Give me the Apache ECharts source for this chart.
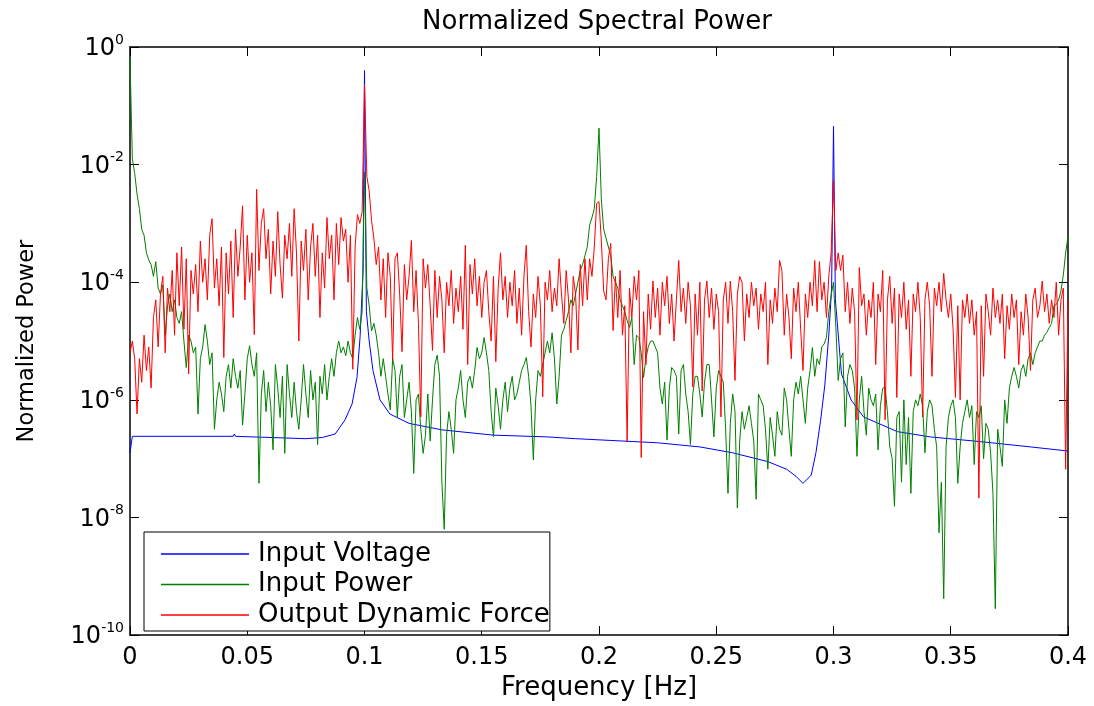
<!DOCTYPE html>
<html>
<head>
<meta charset="utf-8">
<title>Normalized Spectral Power</title>
<script src="https://cdn.jsdelivr.net/npm/echarts@6/dist/echarts.min.js"></script>
<style>
    html, body { margin: 0; padding: 0; background: #fff; }
    #id-div-chart { width: 1094px; height: 706px; }
</style>
</head>
<body>
<div id="id-div-chart"></div>
<script>
var log = console.log.bind(console)

var e = (selector) => document.querySelector(selector)

// 纵轴数据都存成 log10 指数, 纵轴是 10^x
var xTicks = [0, 0.05, 0.1, 0.15, 0.2, 0.25, 0.3, 0.35, 0.4]
var yTicks = [-10, -8, -6, -4, -2, 0]

// Input Power / Output Dynamic Force 的频率间隔
var freqStep = 0.001

var voltageFreq = [
    0, 0.001, 0.044, 0.0445, 0.045, 0.075, 0.082, 0.0875, 0.0917, 0.0947,
    0.0968, 0.0981, 0.0994, 0.1,
    0.1008, 0.102, 0.1036, 0.1066, 0.1108, 0.119, 0.133, 0.155, 0.178, 0.19,
    0.205, 0.225, 0.243, 0.257, 0.272, 0.28, 0.284, 0.287, 0.2905, 0.2925,
    0.2945, 0.2963, 0.298, 0.2992, 0.3,
    0.3008, 0.3034, 0.3075, 0.3128, 0.3272, 0.3413, 0.3626, 0.384, 0.4,
]
var voltageLog = [
    -6.9, -6.62, -6.62, -6.58, -6.62, -6.66, -6.64, -6.58, -6.34, -6.07,
    -5.62, -4.94, -3.8, -0.40,
    -4.5, -5.0, -5.5, -6.0, -6.24, -6.4, -6.51, -6.6, -6.63, -6.66,
    -6.69, -6.73, -6.80, -6.90, -7.05, -7.18, -7.3, -7.42, -7.28, -6.9,
    -6.35, -5.75, -4.9, -4.1, -1.35,
    -4.3, -5.56, -6.0, -6.29, -6.54, -6.63, -6.71, -6.8, -6.87,
]

var powerLog = [
    -0.2, -1.9, -2.15, -2.5, -2.75, -3.1, -3.2, -3.5, -3.62, -3.7,
    -3.9, -3.65, -4.1, -4.2, -4.05, -4.9, -4.4, -4.2, -4.5, -4.3,
    -4.6, -4.7, -4.5, -5.0, -5.45, -4.9, -5.0, -5.2, -5.1, -6.24,
    -5.3, -5.1, -4.72, -5.0, -5.4, -5.2, -6.5, -6.0, -5.7, -5.9,
    -6.2, -5.6, -5.4, -5.8, -5.3, -5.6, -5.8, -5.5, -6.43, -5.9,
    -5.3, -5.08, -5.4, -5.6, -5.2, -7.42, -5.9, -5.5, -6.2, -5.7,
    -6.1, -6.85, -5.4, -5.8, -6.3, -5.6, -6.91, -5.4, -5.9, -6.3,
    -5.7, -6.2, -6.5, -6.0, -5.4, -5.9, -6.3, -5.5, -6.0, -5.7,
    -6.76, -5.6, -5.9, -5.4, -6.0, -5.6, -5.3, -5.6, -5.2, -5.0,
    -5.2, -5.1, -5.25, -5.0, -5.2, -5.3, -4.9, -4.6, -4.8, -4.5,
    -2.13, -4.1, -4.4, -4.83, -4.7, -4.9, -5.2, -5.6, -5.3, -5.6,
    -5.9, -6.17, -5.3, -5.5, -6.29, -5.6, -5.4, -6.3, -6.0, -5.7,
    -6.2, -7.25, -6.0, -5.9, -6.5, -6.91, -6.6, -5.9, -6.7, -6.0,
    -5.4, -5.24, -5.6, -7.4, -8.2, -6.6, -6.2, -6.5, -6.91, -6.0,
    -5.8, -5.5, -6.0, -6.3, -5.7, -5.6, -5.8, -5.5, -5.11, -5.3,
    -5.2, -4.94, -5.2, -5.5, -6.2, -6.63, -5.8, -6.1, -6.5, -6.0,
    -5.7, -6.2, -5.8, -5.6, -6.0, -5.9, -5.7, -5.5, -5.4, -5.28,
    -5.6, -6.1, -7.02, -6.0, -5.5, -5.6, -5.4, -5.2, -5.0, -5.2,
    -4.86, -5.3, -6.07, -5.6, -4.9, -4.8, -4.65, -4.5, -4.3, -4.4,
    -4.2, -4.0, -3.8, -3.7, -3.55, -3.4, -3.03, -2.9, -2.75, -2.2,
    -1.38, -2.6, -3.1, -3.25, -3.4, -3.55, -3.9, -4.0, -4.1, -4.3,
    -4.4, -4.5, -4.65, -4.77, -4.6, -5.4, -4.9, -4.94, -5.2, -5.62,
    -5.3, -5.1, -5.0, -5.0, -5.1, -5.2, -5.8, -6.07, -5.7, -6.68,
    -5.8, -5.45, -5.5, -5.6, -6.58, -5.5, -5.4, -5.9, -6.2, -6.76,
    -5.9, -5.6, -5.6, -5.9, -6.29, -5.7, -5.4, -5.4, -6.0, -6.63,
    -5.8, -5.5, -5.6, -5.7, -6.5, -7.59, -6.4, -5.9, -6.2, -7.84,
    -6.7, -6.2, -6.5, -6.3, -6.1, -6.4, -6.7, -7.69, -5.9, -6.0,
    -6.1, -6.5, -7.18, -6.3, -6.6, -6.96, -6.2, -6.5, -6.6, -5.8,
    -6.0, -6.5, -6.96, -6.0, -5.7, -5.9, -5.6, -6.0, -6.4, -5.8,
    -5.5, -5.11, -5.6, -5.3, -5.4, -5.1, -5.05, -4.94, -4.5, -4.22,
    -4.0, -4.77, -5.67, -5.3, -5.2, -6.46, -5.6, -5.4, -5.5, -5.8,
    -6.96, -6.0, -5.6, -6.2, -6.6, -5.8, -6.0, -6.1, -5.9, -6.85,
    -6.1, -5.8, -5.78, -6.2, -6.8, -7.0, -7.81, -6.3, -6.2, -7.4,
    -6.0, -7.1, -6.3, -7.59, -6.2, -6.0, -6.1, -5.9, -6.1, -6.9,
    -6.2, -6.0, -6.1, -6.5, -6.8, -8.26, -7.4, -9.38, -6.8, -6.3,
    -6.1, -6.0, -6.3, -7.42, -6.8, -6.4, -6.2, -6.0, -6.3, -6.1,
    -7.1, -6.2, -6.3, -6.1, -7.0, -6.4, -6.5, -6.9, -7.59, -9.55,
    -6.5, -6.8, -7.13, -6.0, -6.4, -5.8, -5.6, -5.45, -5.6, -5.8,
    -5.5, -5.4, -5.6, -5.3, -5.2, -5.4, -5.2, -5.1, -5.0, -5.0,
    -4.9, -4.85, -4.77, -4.7, -4.4, -4.38, -4.3, -4.15, -3.88, -3.5,
    -3.22,
]

var forceLog = [
    -5.2, -5.0, -5.3, -6.24, -5.3, -5.7, -4.9, -5.5, -5.1, -5.8,
    -4.6, -4.3, -5.1, -4.2, -3.9, -5.2, -4.1, -4.5, -3.8, -4.9,
    -3.5, -4.4, -3.4, -4.8, -3.6, -5.56, -3.8, -4.2, -3.7, -4.5,
    -3.3, -4.0, -3.6, -4.3, -3.2, -2.92, -4.1, -3.6, -4.4, -3.4,
    -5.28, -3.5, -4.2, -3.3, -4.6, -3.1, -3.9, -3.4, -2.7, -4.3,
    -3.2, -4.0, -3.5, -4.89, -2.42, -3.8, -3.0, -2.75, -3.6, -3.1,
    -4.2, -3.3, -3.9, -2.8, -3.7, -4.27, -3.2, -3.6, -3.0, -3.9,
    -2.75, -3.5, -5.0, -3.3, -3.8, -3.1, -4.3, -3.4, -3.0, -3.9,
    -3.2, -4.6, -3.5, -4.1, -2.9, -3.6, -3.2, -4.3, -3.0, -3.7,
    -2.9, -3.3, -3.1, -4.0, -3.2, -5.48, -3.4, -2.85, -3.0, -2.8,
    -0.64, -2.2, -2.45, -2.95, -3.25, -3.7, -3.4, -4.3, -3.6, -4.6,
    -3.5, -3.9, -5.33, -3.6, -3.5, -4.2, -5.18, -3.7, -4.3, -3.9,
    -3.29, -4.5, -3.8, -4.7, -6.29, -3.6, -4.1, -3.7, -4.4, -5.16,
    -3.8, -4.6, -3.9, -4.3, -5.2, -4.0, -4.4, -3.8, -4.7, -4.1,
    -4.5, -3.9, -4.8, -3.37, -5.4, -3.7, -4.2, -3.6, -4.4, -3.9,
    -4.6, -4.0, -3.8, -4.5, -5.0, -3.9, -5.35, -4.1, -3.5, -4.3,
    -3.9, -4.6, -4.0, -4.4, -3.8, -4.7, -4.1, -4.9, -3.9, -3.37,
    -4.5, -5.1, -4.2, -4.6, -3.9, -4.4, -5.95, -4.0, -4.3, -3.8,
    -4.5, -4.1, -4.4, -3.6, -4.2, -4.7, -3.8, -4.3, -5.2, -3.9,
    -4.2, -5.15, -3.7, -4.4, -3.6, -4.3, -3.6, -3.9, -3.4, -2.66,
    -2.63, -3.3, -4.15, -4.3, -3.6, -3.34, -4.82, -3.9, -4.6, -3.8,
    -4.9, -4.4, -6.71, -4.1, -4.6, -3.9, -4.3, -3.8, -6.98, -4.5,
    -5.4, -4.2, -4.8, -3.98, -4.6, -4.1, -4.9, -4.0, -4.4, -3.9,
    -4.7, -4.2, -5.0, -4.3, -3.63, -4.5, -4.1, -4.7, -4.0, -4.4,
    -5.78, -4.2, -4.9, -4.0, -5.85, -4.3, -3.98, -4.6, -4.1, -4.8,
    -4.2, -4.5, -6.29, -4.3, -4.0, -4.7, -3.98, -4.5, -5.67, -4.2,
    -3.9, -4.0, -5.0, -4.2, -4.6, -4.0, -4.4, -4.1, -4.8, -4.2,
    -4.5, -4.0, -5.4, -4.3, -4.7, -4.1, -4.5, -3.63, -3.8, -4.9,
    -4.2, -4.6, -5.3, -4.1, -4.5, -4.0, -4.8, -5.5, -4.2, -4.6,
    -4.0, -4.4, -3.63, -4.5, -3.65, -4.3, -4.0, -4.6, -3.9, -3.5,
    -2.27, -3.8, -3.5, -3.8, -3.54, -4.5, -4.0, -4.7, -4.1, -4.5,
    -6.34, -3.75, -4.4, -4.2, -4.9, -4.3, -4.6, -4.0, -5.4, -4.2,
    -4.5, -3.8, -6.34, -4.3, -3.9, -4.7, -4.1, -5.96, -4.2, -4.6,
    -4.0, -4.8, -4.3, -5.6, -4.2, -4.5, -4.0, -4.6, -6.29, -4.3,
    -4.0, -4.4, -5.6, -4.1, -4.4, -4.0, -4.5, -3.85, -4.3, -4.6,
    -4.2, -4.8, -5.96, -4.4, -6.0, -4.3, -4.6, -4.2, -4.7, -4.3,
    -4.9, -4.5, -7.67, -4.4, -5.6, -4.2, -4.5, -4.9, -4.1, -4.6,
    -4.3, -4.7, -4.2, -5.3, -4.4, -4.8, -4.2, -4.6, -4.3, -5.4,
    -4.5, -4.9, -4.2, -4.6, -5.5, -4.3, -4.1, -4.6, -4.4, -3.98,
    -4.5, -4.2, -4.7, -4.3, -4.6, -4.0, -4.9, -4.3, -4.1, -7.18,
    -4.3,
]

var seriesNames = ['Input Voltage', 'Input Power', 'Output Dynamic Force']
var seriesColors = ['#0000ff', '#008000', '#ff0000']

var font = 'DejaVu Sans'

var gridFreq = function(n) {
    var r = []
    for (var i = 0; i < n; i++) {
        r.push(Number((i * freqStep).toFixed(4)))
    }
    return r
}

var pairs = function(xs, ys) {
    var r = []
    for (var i = 0; i < ys.length; i++) {
        r.push([xs[i], ys[i]])
    }
    return r
}

var lineSeries = function(index, data) {
    return {
        name: seriesNames[index],
        type: 'line',
        data: data,
        showSymbol: false,
        symbol: 'none',
        animation: false,
        lineStyle: {
            color: seriesColors[index],
            width: 1,
        },
        itemStyle: {
            color: seriesColors[index],
        },
    }
}

var frameX = function(position) {
    return {
        type: 'value',
        position: position,
        min: xTicks[0],
        max: xTicks[xTicks.length - 1],
        interval: xTicks[1] - xTicks[0],
        axisLine: { onZero: false, lineStyle: { color: '#000', width: 1.5 } },
        axisTick: { inside: true, length: 9, lineStyle: { color: '#000', width: 1 } },
        axisLabel: { show: false },
        splitLine: { show: false },
    }
}

var frameY = function(position) {
    return {
        type: 'value',
        position: position,
        min: yTicks[0],
        max: yTicks[yTicks.length - 1],
        interval: yTicks[1] - yTicks[0],
        axisLine: { onZero: false, lineStyle: { color: '#000', width: 1.5 } },
        axisTick: { inside: true, length: 9, lineStyle: { color: '#000', width: 1 } },
        axisLabel: { show: false },
        splitLine: { show: false },
    }
}

var chartOption = function() {
    var bottomX = frameX('bottom')
    bottomX.axisLabel = {
        show: true,
        color: '#000',
        fontSize: 24,
        fontFamily: font,
        margin: 11,
    }
    bottomX.name = 'Frequency [Hz]'
    bottomX.nameLocation = 'middle'
    bottomX.nameGap = 37
    bottomX.nameTextStyle = { color: '#000', fontSize: 26, fontFamily: font }

    var leftY = frameY('left')
    leftY.axisLabel = {
        show: true,
        margin: 6,
        formatter: function(v) {
            return '{b|10}{s|' + v + '}'
        },
        rich: {
            b: { fontSize: 24, fontFamily: font, color: '#000', verticalAlign: 'bottom' },
            s: { fontSize: 14, fontFamily: font, color: '#000', verticalAlign: 'bottom', padding: [0, 0, 14, 0] },
        },
    }
    leftY.name = 'Normalized Power'
    leftY.nameLocation = 'middle'
    leftY.nameGap = 91
    leftY.nameTextStyle = { color: '#000', fontSize: 22.5, fontFamily: font }

    var option = {
        animation: false,
        backgroundColor: '#fff',
        title: {
            text: 'Normalized Spectral Power',
            left: 597,
            textAlign: 'center',
            top: 9,
            padding: 0,
            textStyle: { color: '#000', fontSize: 26, fontWeight: 'normal', fontFamily: font },
        },
        grid: {
            left: 130,
            right: 26,
            top: 47,
            bottom: 67,
        },
        legend: {
            data: seriesNames,
            orient: 'vertical',
            left: 144,
            top: 532,
            icon: 'rect',
            itemWidth: 88,
            itemHeight: 1.5,
            itemGap: 0.5,
            padding: [7, 0, 1, 17],
            backgroundColor: '#fff',
            borderColor: '#000',
            borderWidth: 1,
            textStyle: {
                color: '#000',
                fontSize: 26,
                fontFamily: font,
                lineHeight: 30,
                padding: [0, 0, 0, 4],
            },
        },
        xAxis: [bottomX, frameX('top')],
        yAxis: [leftY, frameY('right')],
        series: [
            lineSeries(0, pairs(voltageFreq, voltageLog)),
            lineSeries(1, pairs(gridFreq(powerLog.length), powerLog)),
            lineSeries(2, pairs(gridFreq(forceLog.length), forceLog)),
        ],
    }
    return option
}

var __main = function() {
    var chart = echarts.init(e('#id-div-chart'), null, { renderer: 'canvas' })
    chart.setOption(chartOption())
}

__main()
</script>
</body>
</html>
